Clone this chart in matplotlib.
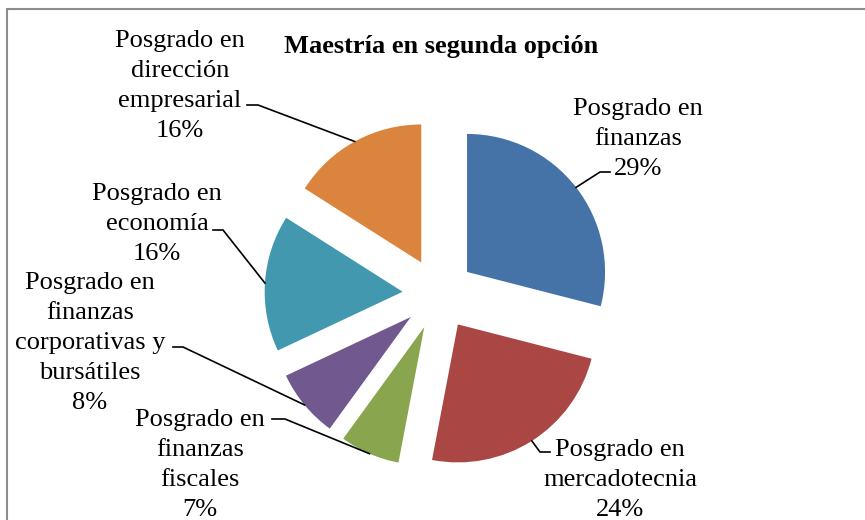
import matplotlib.pyplot as plt
import matplotlib.patches as patches
import numpy as np

plt.rcParams['font.family'] = ['Liberation Serif', 'DejaVu Serif']

title = "Maestría en segunda opción"
names = ["Posgrado en\nfinanzas",
         "Posgrado en\nmercadotecnia",
         "Posgrado en\nfinanzas\nfiscales",
         "Posgrado en\nfinanzas\ncorporativas y\nbursátiles",
         "Posgrado en\neconomía",
         "Posgrado en\ndirección\nempresarial"]
percent = [29, 24, 7, 8, 16, 16]
colors = ['#4572A7', '#AA4643', '#89A54E', '#71588F', '#4198AF', '#DB843D']

# layout, in pixels of the 865x520 picture
W, H = 865, 520
CX, CY = 438.6, 294   # pie centre
R = 138               # pie radius
label_xy = [(638, 139), (620, 480), (200, 465), (90, 343), (157, 224), (180, 86)]
elbow = [((600, 172), (610, 172)),
         ((540, 452), (550, 452)),
         ((285, 419), (272, 419)),
         ((183, 347), (173, 347)),
         ((223, 230), (213, 230)),
         ((258, 105), (247, 105))]


def px(x, y):
    # pixel -> data units (1 = pie radius)
    return (x - CX) / R, (CY - y) / R


fig = plt.figure(figsize=(W / 100, H / 100), dpi=100)
ax = fig.add_axes([0, 0, 1, 1])

wedges, _ = ax.pie(percent, colors=colors, startangle=90, counterclock=False,
                   explode=[36 / R] * len(percent),
                   wedgeprops=dict(linewidth=0))
ax.set_xlim(-CX / R, (W - CX) / R)
ax.set_ylim((CY - H) / R, CY / R)
ax.set_aspect('auto')
ax.axis('off')

for w, name, p, (tx, ty), (e1, e2) in zip(wedges, names, percent, label_xy, elbow):
    mid = np.deg2rad((w.theta1 + w.theta2) / 2)
    cx, cy = w.center
    ax_pt = (cx + w.r * np.cos(mid), cy + w.r * np.sin(mid))
    p1 = px(*e1)
    p2 = px(*e2)
    ax.plot([ax_pt[0], p1[0], p2[0]], [ax_pt[1], p1[1], p2[1]],
            color='black', lw=1.2, solid_joinstyle='miter')
    ax.text(*px(tx, ty), f"{name}\n{p}%", ha='center', va='center',
            multialignment='center', fontsize=19, linespacing=1.47)

ax.text(*px(441, 46), title, ha='center', va='center', fontsize=19, fontweight='bold')

# chart border
fig.patches.append(patches.Rectangle((7 / W, -0.1), 1.2, 1 - 9 / H + 0.1,
                                     transform=fig.transFigure, fill=False,
                                     edgecolor='#8c8c8c', lw=1.5))

fig.savefig('out.png', dpi=100)
